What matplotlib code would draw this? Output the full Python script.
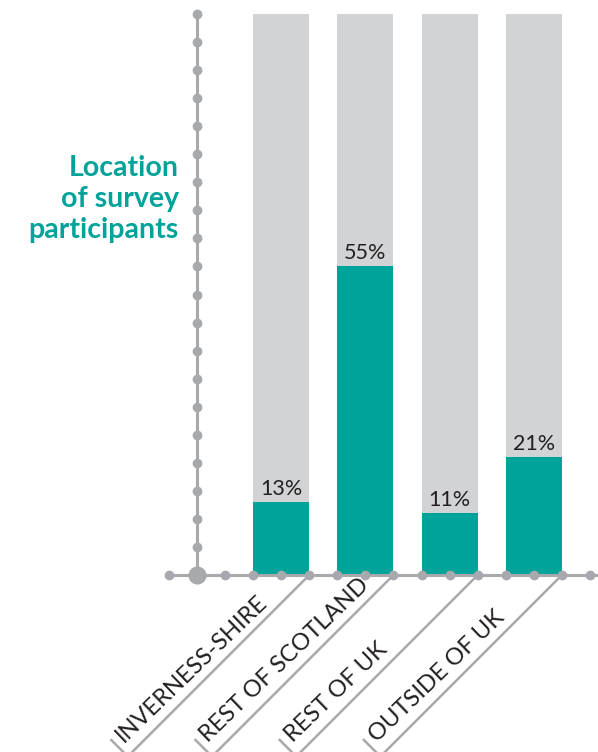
import matplotlib
matplotlib.use('Agg')
import matplotlib.pyplot as plt

# dati
categorie = ['INVERNESS-SHIRE', 'REST OF SCOTLAND', 'REST OF UK', 'OUTSIDE OF UK']
percentuali = [13, 55, 11, 21]
etichette = ['13%', '55%', '11%', '21%']
titolo = 'Location\nof survey\nparticipants'

verde = '#00A39A'
grigio_barra = '#D1D3D4'
grigio_asse = '#A7A9AC'
testo = '#231F20'

# scala: 1 unita x = 28.07 px, 1% = 5.61 px
px_x = 28.07
px_y = 5.61

fig = plt.figure(figsize=(5.98, 7.52), dpi=100)
ax = fig.add_axes([0, 0, 1, 1])
ax.set_xlim(-197 / px_x, 401 / px_x)
ax.set_ylim(-177 / px_y, 100 + 14 / px_y)
ax.axis('off')

centri = [3 + 3 * i for i in range(len(categorie))]

# barre di sfondo e barre verdi
ax.bar(centri, [100] * len(centri), width=2, color=grigio_barra, zorder=1)
ax.bar(centri, percentuali, width=2, color=verde, zorder=2)

for c, p, e in zip(centri, percentuali, etichette):
    ax.text(c, p + 7 / px_y, e, ha='center', va='baseline', fontsize=15.5,
            color=testo, family='Lato', zorder=3)

# asse y con pallini
ax.plot([0, 0], [0, 100], color=grigio_asse, lw=2.2, zorder=4)
ax.plot([0] * 21, list(range(0, 101, 5)), 'o', color=grigio_asse, ms=6, zorder=5)

# asse x con pallini
ax.plot([-1, 14.25], [0, 0], color=grigio_asse, lw=2.2, zorder=4)
ax.plot(list(range(-1, 15)), [0] * 16, 'o', color=grigio_asse, ms=6, zorder=5)
ax.plot([0], [0], 'o', color=grigio_asse, ms=12, zorder=6)

# linee oblique ed etichette
for c, nome in zip(centri, categorie):
    e = c + 1
    ax.plot([e, e - 200 / px_x], [0, -200 / px_y], color=grigio_asse, lw=1.8, zorder=4)
    ax.plot([e - 198 / px_x, e - 184 / px_x], [-165 / px_y, -179 / px_y],
            color=grigio_asse, lw=1.8, zorder=4)
    ax.text(e - 185 / px_x, -168 / px_y, nome, rotation=44, rotation_mode='anchor',
            ha='left', va='baseline', fontsize=17, color=testo, family='Lato')

# titolo
ax.text(-18 / px_x, (575 - 238) / px_y, titolo, ha='right', va='baseline',
        ma='right', fontsize=20.5, fontweight='bold', color=verde, family='Lato',
        linespacing=1.24)

fig.savefig('out.png', dpi=100)
